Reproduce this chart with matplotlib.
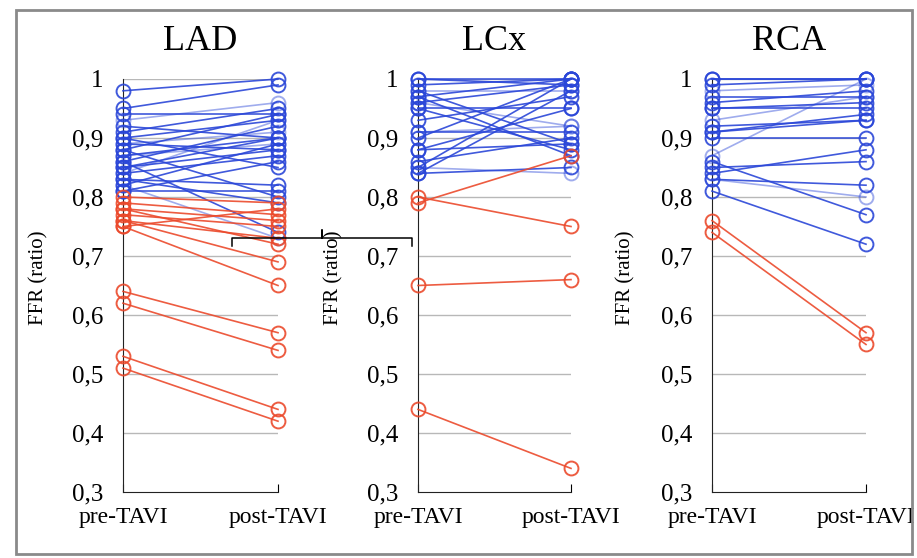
import matplotlib.pyplot as plt
from matplotlib.patches import Rectangle
from matplotlib.lines import Line2D

plt.rcParams['font.family'] = ['Liberation Serif', 'DejaVu Serif']

# valores FFR pre / post TAVI
lad_azul_pre = [0.98, 0.95, 0.94, 0.93, 0.92, 0.91, 0.90, 0.90, 0.89, 0.89, 0.88, 0.88, 0.87,
                0.87, 0.86, 0.86, 0.85, 0.85, 0.84, 0.84, 0.83, 0.83, 0.82, 0.82, 0.81, 0.81]
lad_azul_post = [1.00, 0.99, 0.94, 0.96, 0.90, 0.95, 0.93, 0.85, 0.91, 0.88, 0.94, 0.80, 0.90,
                 0.89, 0.92, 0.74, 0.88, 0.90, 0.93, 0.87, 0.82, 0.79, 0.89, 0.73, 0.86, 0.81]
lad_rojo_pre = [0.80, 0.79, 0.78, 0.78, 0.77, 0.76, 0.76, 0.75, 0.75, 0.64, 0.62, 0.53, 0.51]
lad_rojo_post = [0.79, 0.77, 0.76, 0.72, 0.75, 0.73, 0.69, 0.65, 0.78, 0.57, 0.54, 0.44, 0.42]

lcx_azul_pre = [1.00, 1.00, 0.99, 0.98, 0.98, 0.97, 0.97, 0.96, 0.96, 0.95, 0.95,
                0.93, 0.91, 0.91, 0.90, 0.88, 0.88, 0.86, 0.85, 0.85, 0.84, 0.84]
lcx_azul_post = [1.00, 0.99, 1.00, 0.98, 0.89, 1.00, 0.87, 0.99, 0.92, 0.95, 0.88,
                 0.97, 0.91, 0.92, 1.00, 0.89, 0.95, 0.90, 0.84, 1.00, 0.98, 0.85]
lcx_rojo_pre = [0.80, 0.79, 0.65, 0.44]
lcx_rojo_post = [0.75, 0.87, 0.66, 0.34]

rca_azul_pre = [1.00, 1.00, 0.99, 0.98, 0.97, 0.96, 0.95, 0.95, 0.93, 0.92,
                0.91, 0.91, 0.90, 0.87, 0.86, 0.85, 0.84, 0.83, 0.83, 0.81]
rca_azul_post = [1.00, 1.00, 1.00, 0.99, 0.97, 0.98, 0.96, 0.95, 0.97, 0.93,
                 0.94, 0.93, 0.90, 1.00, 0.77, 0.86, 0.88, 0.82, 0.80, 0.72]
rca_rojo_pre = [0.76, 0.74]
rca_rojo_post = [0.57, 0.55]

paneles = [
    ('LAD', lad_azul_pre, lad_azul_post, lad_rojo_pre, lad_rojo_post, 123, 155, 38),
    ('LCx', lcx_azul_pre, lcx_azul_post, lcx_rojo_pre, lcx_rojo_post, 418, 153, 333),
    ('RCA', rca_azul_pre, rca_azul_post, rca_rojo_pre, rca_rojo_post, 712, 154, 625),
]
etiquetas_x = ['pre-TAVI', 'post-TAVI']
ticks_y = [0.3, 0.4, 0.5, 0.6, 0.7, 0.8, 0.9, 1.0]
etiquetas_y = ['0,3', '0,4', '0,5', '0,6', '0,7', '0,8', '0,9', '1']

W, H = 917, 558
fig = plt.figure(figsize=(W / 100, H / 100), dpi=100)

azul = '#2b47d8'
rojo = '#eb4a2c'

for titulo, bpre, bpost, rpre, rpost, x0, ancho, xlab in paneles:
    ax = fig.add_axes([x0 / W, (H - 492) / H, ancho / W, 413 / H])
    ax.set_xlim(0, 1)
    ax.set_ylim(0.3, 1.0)
    for y in ticks_y[1:]:
        ax.axhline(y, color='#b8b8b8', lw=1, zorder=0)
    for i, (a, b) in enumerate(zip(bpre, bpost)):
        al = 0.45 if i % 5 == 3 else 0.9
        ax.plot([0, 1], [a, b], '-o', color=azul, alpha=al, lw=1.2, ms=10,
                mfc='none', mew=1.4, clip_on=False, zorder=3)
    for a, b in zip(rpre, rpost):
        ax.plot([0, 1], [a, b], '-o', color=rojo, alpha=0.9, lw=1.2, ms=10,
                mfc='none', mew=1.4, clip_on=False, zorder=3)
    ax.set_yticks(ticks_y)
    ax.set_yticklabels(etiquetas_y, fontsize=18)
    ax.set_xticks([0, 1])
    ax.set_xticklabels(etiquetas_x, fontsize=17)
    ax.tick_params(axis='y', length=0, pad=14)
    ax.tick_params(axis='x', direction='in', length=6, pad=11)
    for s in ['top', 'right']:
        ax.spines[s].set_visible(False)
    ax.spines['left'].set_color('#222222')
    ax.spines['bottom'].set_color('#222222')
    ax.set_ylabel('FFR (ratio)', fontsize=15)
    ax.yaxis.set_label_coords((xlab + 10 - x0) / ancho, (492 - 278) / 413)
    ax.set_title(titulo, fontsize=26, pad=21)

# llave entre LAD y LCx
def fx(p):
    return p / W

def fy(p):
    return 1 - p / H

pts_x = [232, 232, 322, 322, 322, 412, 412]
pts_y = [246, 238, 238, 230, 238, 238, 246]
fig.add_artist(Line2D([fx(v) for v in pts_x], [fy(v) for v in pts_y], color='black', lw=1.1))

# marco exterior
fig.add_artist(Rectangle((fx(16), fy(554)), (912 - 16) / W, (554 - 10) / H,
                         fill=False, edgecolor='#8a8a8a', lw=2))

fig.savefig('out.png', dpi=100)
